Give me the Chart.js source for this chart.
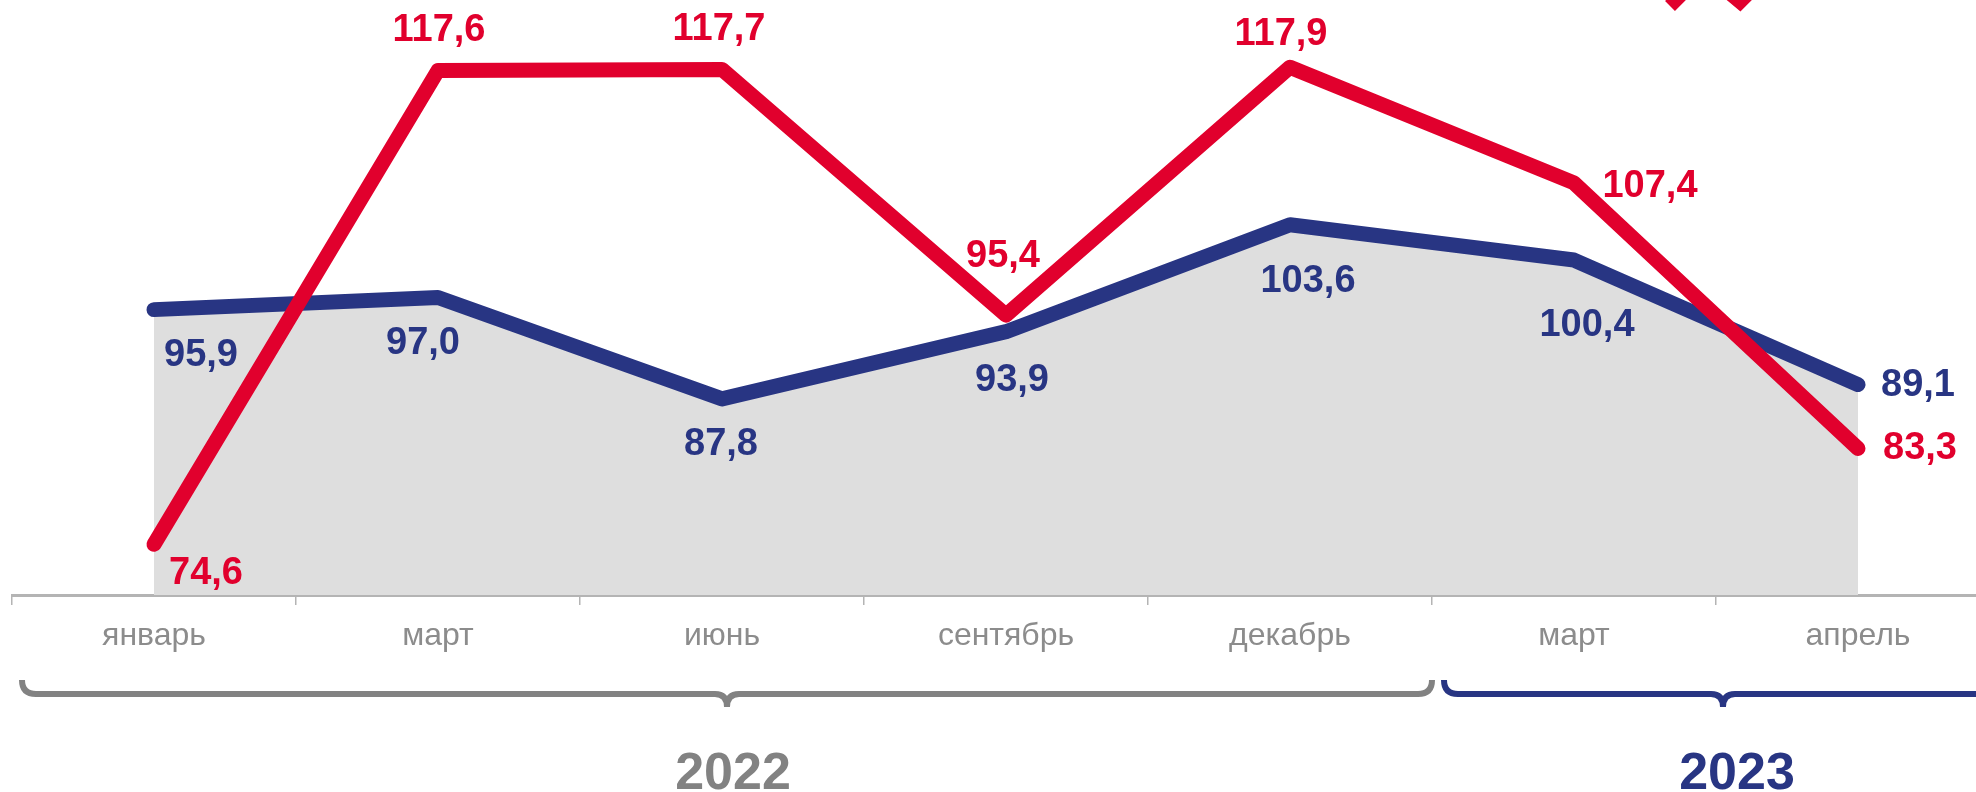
<!DOCTYPE html>
<html>
<head>
<meta charset="utf-8">
<script src="https://cdn.jsdelivr.net/npm/chart.js@4"></script>
<style>
  html, body { margin: 0; padding: 0; background: #fff; overflow: hidden; }
  #wrap { position: relative; width: 2010px; height: 792px; }
</style>
</head>
<body>
<div id="wrap"><canvas id="myChart"></canvas></div>
<script>
const categories = ['январь', 'март', 'июнь', 'сентябрь', 'декабрь', 'март', 'апрель'];
const redValues = [74.6, 117.6, 117.7, 95.4, 117.9, 107.4, 83.3];
const blueValues = [95.9, 97.0, 87.8, 93.9, 103.6, 100.4, 89.1];
const years = ['2022', '2023'];
const yearFirst = [0, 5];
const yearLast = [4, 6];

const RED = '#e1002d';
const BLUE = '#283583';
const GREY = '#828282';

// label nudges (dx, dy) from each point
const redShift = [[52, 29], [1, -40], [-3, -40], [-3, -59], [-9, -33], [76, 4], [62, 0]];
const blueShift = [[47, 46], [-15, 46], [-1, 46], [6, 49], [18, 57], [13, 65], [60, 1]];

const fmt = v => v.toFixed(1).replace('.', ',');

const valueLabels = {
  id: 'valueLabels',
  afterDatasetsDraw(chart) {
    const ctx = chart.ctx;
    ctx.save();
    ctx.font = 'bold 38px "Liberation Sans", Arial, sans-serif';
    ctx.textAlign = 'center';
    ctx.textBaseline = 'middle';
    chart.data.datasets.forEach((ds, di) => {
      const meta = chart.getDatasetMeta(di);
      const shift = di === 0 ? redShift : blueShift;
      ctx.fillStyle = ds.borderColor;
      meta.data.forEach((pt, i) => {
        ctx.fillText(fmt(ds.data[i]), pt.x + shift[i][0], pt.y + shift[i][1]);
      });
    });
    ctx.restore();
  },
};

function brace(ctx, x1, x2, y, color) {
  const c = (x1 + x2) / 2;
  const r = 14, t = 12;
  ctx.strokeStyle = color;
  ctx.lineWidth = 6;
  ctx.lineCap = 'butt';
  ctx.beginPath();
  ctx.moveTo(x1, y - r);
  ctx.quadraticCurveTo(x1, y, x1 + r, y);
  ctx.lineTo(c - t, y);
  ctx.quadraticCurveTo(c, y, c, y + 13);
  ctx.quadraticCurveTo(c, y, c + t, y);
  ctx.lineTo(x2 - r, y);
  ctx.quadraticCurveTo(x2, y, x2, y - r);
  ctx.stroke();
  return c;
}

const yearBraces = {
  id: 'yearBraces',
  afterDraw(chart) {
    const ctx = chart.ctx;
    const x = chart.scales.x;
    const half = (x.getPixelForValue(1) - x.getPixelForValue(0)) / 2;
    const base = chart.chartArea.bottom;
    const colors = [GREY, BLUE];
    ctx.save();
    years.forEach((yr, k) => {
      const a = x.getPixelForValue(yearFirst[k]) - half + (k === 0 ? 10 : 12);
      const b = x.getPixelForValue(yearLast[k]) + half + (k === 0 ? 0 : 2);
      const c = brace(ctx, a, b, base + 99, colors[k]);
      ctx.fillStyle = colors[k];
      ctx.font = 'bold 52px "Liberation Sans", Arial, sans-serif';
      ctx.textAlign = 'center';
      ctx.textBaseline = 'alphabetic';
      ctx.fillText(yr, c + (k === 0 ? 6 : 14), base + 194);
    });

    // clipped legend icon at the top edge
    ctx.strokeStyle = RED;
    ctx.lineWidth = 14;
    ctx.lineJoin = 'miter';
    ctx.beginPath();
    ctx.moveTo(1670, 6);
    ctx.lineTo(1704, -28);
    ctx.lineTo(1740, 2);
    ctx.lineTo(1774, -32);
    ctx.stroke();
    ctx.restore();
  },
};

const config = {
  type: 'line',
  data: {
    labels: categories,
    datasets: [
      {
        label: 'red',
        data: redValues,
        borderColor: RED,
        borderWidth: 15,
        borderCapStyle: 'round',
        borderJoinStyle: 'round',
        pointRadius: 0,
        fill: false,
        tension: 0,
      },
      {
        label: 'blue',
        data: blueValues,
        borderColor: BLUE,
        backgroundColor: '#dedede',
        borderWidth: 15,
        borderCapStyle: 'round',
        borderJoinStyle: 'round',
        pointRadius: 0,
        fill: 'start',
        tension: 0,
      },
    ],
  },
  options: {
    responsive: true,
    maintainAspectRatio: false,
    animation: false,
    layout: { padding: { left: 12, right: 10, top: 0, bottom: 0 } },
    plugins: { legend: { display: false }, tooltip: { enabled: false } },
    scales: {
      y: { display: false, min: 70, max: 124 },
      x: {
        offset: true,
        grid: { offset: true, drawOnChartArea: false, tickLength: 10, color: '#b4b4b4', lineWidth: 1.5 },
        border: { display: true, color: '#b4b4b4', width: 3 },
        ticks: {
          color: '#8c8c8c',
          padding: 12,
          maxRotation: 0,
          autoSkip: false,
          font: { family: '"Liberation Sans", Arial, sans-serif', size: 32 },
        },
        afterFit(scale) { scale.height = 197; },
      },
    },
  },
  plugins: [valueLabels, yearBraces],
};

const myChart = new Chart(document.getElementById('myChart'), config);
</script>
</body>
</html>
